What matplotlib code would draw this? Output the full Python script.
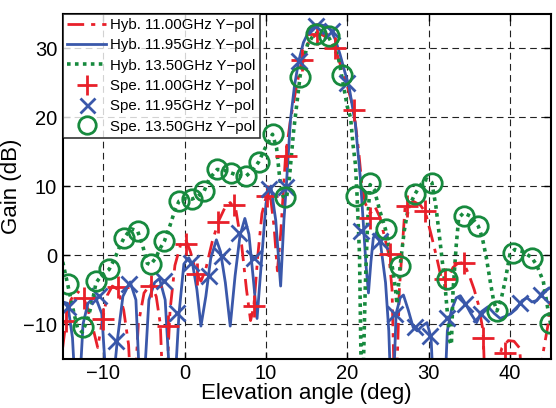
import matplotlib
matplotlib.use("Agg")
import matplotlib.pyplot as plt

plt.rcParams['font.family'] = ['Liberation Sans', 'DejaVu Sans']

# hybrid model curves (angle in deg, gain in dB)
hyb_1100_x = [-15, -14.6, -14.0, -13.3, -12.6, -12.0, -11.3, -10.7, -10.1, -9.5, -8.9, -8.2,
              -7.5, -6.9, -6.4, -5.7, -5.0, -4.2, -3.5, -3.0, -2.5, -1.8, -1.2, -0.5, 0.1,
              0.7, 1.4, 2.0, 2.6, 3.4, 4.2, 5.0, 5.6, 6.3, 7.0, 7.6, 8.1, 8.5, 9.0, 9.5,
              10.1, 10.6, 11.0, 11.4, 11.8, 12.4, 13.0, 13.6, 14.4, 15.2, 16.0, 16.8, 17.6,
              18.5, 19.3, 20.0, 20.8, 21.4, 21.8, 22.2, 22.8, 23.4, 24.0, 24.5, 25.1, 25.5,
              25.9, 26.4, 27.1, 28.1, 29.0, 29.6, 30.3, 31.0, 31.6, 32.0, 32.5, 33.0, 33.6,
              34.3, 35.0, 35.6, 36.1, 36.7, 37.1, 38.2, 39.0, 39.8, 40.5, 41.2, 41.8, 43.0,
              44.1, 44.7, 45.0]
hyb_1100_y = [-13.4, -9.6, -6.5, -5.2, -5.8, -7.5, -10.5, -13.4, -9.3, -5.8, -4.5, -5.0,
              -8.0, -13.0, -25, -10.0, -5.5, -4.2, -6.0, -10.0, -25, -8.0, -1.5, 1.5, 2.3,
              0.5, -2.5, -3.8, -2.0, 2.0, 5.0, 7.0, 7.6, 6.5, 1.5, -5.0, -9.5, -7.5, 0.0, 6.0,
              8.8, 8.0, 4.0, -2.3, 3.0, 14.3, 19.5, 23.5, 28.2, 30.7, 31.8, 32.0, 31.4,
              30.0, 27.0, 24.5, 21.0, 15.0, 10.0, 7.5, 6.0, 7.0, 5.5, 3.0, 0.1, -5.0,
              -25, -5.0, 6.9, 7.8, 7.2, 6.2, 3.0, -0.4, -3.6, -3.8, -3.0, -1.8, -1.2,
              -1.1, -3.0, -5.0, -7.1, -11.0, -25, -17.0, -13.5, -12.4, -12.5, -13.5, -25, -25,
              -14.0, -10.0, -6.7]

hyb_1195_x = [-15, -14.4, -13.8, -13.2, -12.5, -11.9, -11.0, -10.2, -9.3, -8.3, -7.6, -6.7,
              -6.0, -5.3, -4.4, -3.7, -3.1, -2.4, -1.5, -0.7, -0.1, 0.5, 1.0, 1.5, 2.0, 2.6,
              3.2, 3.9, 4.4, 5.0, 5.6, 6.2, 6.8, 7.4, 7.9, 8.4, 8.9, 9.5, 10.0, 10.6, 11.2,
              11.8, 12.2, 12.5, 13.0, 13.5, 14.0, 14.6, 15.3, 16.0, 16.6, 17.3, 17.9, 18.5,
              19.1, 19.7, 20.2, 20.7, 21.0, 21.3, 21.6, 22.0, 22.3, 22.6, 22.9, 23.2, 23.6,
              24.1, 24.7, 25.1, 25.5, 26.0, 26.5, 26.9, 27.5, 28.1, 28.6, 29.2, 29.8, 30.3,
              30.8, 31.8, 32.3, 32.8, 33.4, 33.9, 34.5, 35.2, 35.9, 36.5, 37.3, 38.1, 38.8,
              39.4, 40.1, 40.8, 41.5, 42.1, 42.7, 43.3, 44.1, 45.0]
hyb_1195_y = [-6.8, -7.0, -12.0, -25, -10.0, -7.0, -6.0, -8.5, -25, -12.5, -6.0, -3.9,
              -6.5, -25, -6.5, -4.0, -3.4, -6.5, -25, -8.5, -1.3, -0.4, -1.5, -5.0, -10.3, -6.0,
              -0.5, 2.2, 0.5, -4.0, -10.3, -3.0, 2.8, 5.3, 3.0, -3.0, -9.2, 0.0, 7.5, 10.0, 5.0,
              -4.5, 5.0, 10.0, 19.5, 24.5, 28.0, 30.8, 32.5, 33.3, 33.4, 33.2, 32.7, 31.3,
              29.1, 26.5, 24.5, 21.0, 18.9, 15.0, 11.2, 4.0, -1.5, -5.5, -1.0, 2.5, 3.3,
              1.5, -4.0, -11.0, -25, -8.5, -6.2, -5.8, -8.0, -10.5, -11.0, -10.3, -9.8, -12.0,
              -25, -25, -11.0, -8.0, -6.2, -5.9, -7.0, -8.5, -9.8, -8.2, -7.5, -8.5, -9.2,
              -8.9, -8.5, -7.8, -6.6, -6.2, -6.8, -6.6, -5.3, -4.7]

hyb_1350_x = [-15, -14.4, -13.8, -13.2, -12.6, -12.0, -11.4, -10.9, -10.1, -9.3, -8.6, -8.0,
              -7.45, -6.6, -5.8, -5.2, -4.6, -4.2, -3.6, -3.0, -2.5, -1.8, -1.2, -0.7, 0.1,
              0.9, 1.6, 2.4, 3.0, 4.0, 4.8, 5.7, 6.6, 7.5, 8.3, 9.1, 9.9, 10.8, 11.3, 11.7,
              12.1, 12.5, 12.8, 13.4, 14.2, 15.1, 15.9, 16.7, 17.5, 18.2, 18.9, 19.5, 20.0,
              20.4, 20.7, 21.0, 21.2, 21.5, 21.8, 22.2, 22.5, 22.8, 23.3, 24.0, 24.7, 25.3,
              25.9, 26.1, 26.5, 27.0, 27.5, 28.3, 29.1, 29.8, 30.4, 30.9, 31.4, 32.0, 32.6,
              32.8, 33.0, 33.4, 33.7, 34.3, 35.2, 36.1, 36.6, 37.1, 37.6, 38.0, 38.4, 38.9,
              39.4, 40.0, 40.6, 41.6, 42.7, 43.3, 44.1, 44.7, 45.0]
hyb_1350_y = [-1.0, -4.2, -7.5, -10.5, -11.2, -9.5, -7.0, -4.0, -2.8, -2.1, -0.5, 1.2,
              2.5, 3.8, 3.5, 1.5, -1.2, -1.4, -0.5, 1.0, 2.0, 4.3, 6.5, 7.8, 8.2,
              8.1, 8.5, 9.3, 11.0, 12.4, 12.3, 11.9, 11.5, 11.4, 12.2, 13.5, 15.5, 17.5, 15.5, 11.0,
              8.5, 8.2, 10.2, 18.0, 26.0, 30.5, 32.0, 32.4, 32.0, 30.5, 28.6, 24.7, 21.5,
              19.9, 16.0, 13.1, 8.6, 0.0, -25, -5.0, 5.0, 10.2, 9.5, 6.4, 3.7, 0.1,
              -4.7, -7.1, -1.5, 3.5, 6.8, 8.8, 10.3, 11.0, 10.5, 7.0, 2.0, -4.2, -12.5,
              -13.0, -5.2, 1.5, 5.4, 6.1, 5.6, 4.2, 2.5, -0.4, -4.0, -6.7, -8.1, -6.5,
              -3.8, 0.1, 0.8, 0.5, -0.4, -1.5, -3.8, -8.1, -10.0]

# measured points
spe_1100_x = [-14.6, -12.35, -10.1, -8.26, -4.2, -2.1, 0.1, 1.56, 4.1, 6.05, 8.5, 10.1,
              12.4, 14.4, 16.3, 18.5, 20.8, 22.8, 25.3, 27.3, 29.6, 32.0, 34.3, 36.7, 39.4]
spe_1100_y = [-9.6, -6.2, -9.3, -4.7, -4.5, -10.3, 1.6, -2.8, 4.8, 7.3, -7.4, 8.6,
              14.3, 28.2, 32.0, 30.0, 21.0, 5.4, 0.1, 7.1, 6.4, -3.5, -1.1, -12.0, -14.2]

spe_1195_x = [-14.4, -10.5, -8.5, -6.8, -2.5, -0.9, 0.74, 3.0, 4.6, 6.7, 8.5, 10.4, 12.4,
              14.0, 16.1, 18.1, 20.0, 21.7, 24.0, 25.9, 28.3, 30.2, 32.2, 34.5, 36.5, 41.2,
              43.8]
spe_1195_y = [-7.6, -5.9, -12.5, -4.2, -3.8, -8.4, -1.1, -3.0, -0.1, 3.2, -0.4, 9.5, 9.8,
              28.1, 33.2, 32.5, 25.0, 3.5, 2.0, -8.6, -10.5, -11.7, -9.1, -7.1, -8.5, -6.9,
              -5.8]

spe_1350_x = [-14.4, -12.55, -10.9, -9.3, -7.45, -5.8, -4.2, -2.5, -0.7, 0.94, 2.4, 4.0,
              5.7, 7.5, 9.1, 10.8, 12.3, 14.2, 16.1, 17.7, 19.35, 21.1, 22.8, 24.7, 26.5,
              28.3, 30.4, 32.2, 34.3, 36.1, 38.4, 40.4, 42.7, 44.9]
spe_1350_y = [-4.2, -10.5, -3.8, -2.1, 2.5, 3.5, -1.3, 2.0, 7.8, 8.1, 9.3, 12.4,
              11.9, 11.4, 13.5, 17.5, 8.4, 25.8, 32.0, 31.7, 26.1, 8.6, 10.5, 3.7, -1.6,
              8.8, 10.5, -3.5, 5.65, 4.2, -8.1, 0.3, -0.4, -9.8]

red = '#e8202a'
blue = '#3a58aa'
green = '#178a3e'

fig = plt.figure(figsize=(5.56, 4.08), dpi=100)
ax = fig.add_axes([0.1128, 0.1213, 0.8775, 0.8456])

ax.plot(hyb_1100_x, hyb_1100_y, color=red, lw=2.0, ls=(0, (6, 2.5, 1.5, 2.5)),
        label='Hyb. 11.00GHz Y\u2212pol')
ax.plot(hyb_1195_x, hyb_1195_y, color=blue, lw=2.0, ls='-',
        label='Hyb. 11.95GHz Y\u2212pol')
ax.plot(hyb_1350_x, hyb_1350_y, color=green, lw=2.6, ls=(0, (1, 1.2)),
        label='Hyb. 13.50GHz Y\u2212pol')
ax.plot(spe_1100_x, spe_1100_y, ls='none', marker='+', ms=16, mew=2.0, color=red,
        label='Spe. 11.00GHz Y\u2212pol')
ax.plot(spe_1195_x, spe_1195_y, ls='none', marker='x', ms=12, mew=2.0, color=blue,
        label='Spe. 11.95GHz Y\u2212pol')
ax.plot(spe_1350_x, spe_1350_y, ls='none', marker='o', ms=14, mew=2.0, mfc='none',
        color=green, label='Spe. 13.50GHz Y\u2212pol')

ax.set_xlim(-15, 45)
ax.set_ylim(-15, 35)
ax.set_xticks([-10, 0, 10, 20, 30, 40])
ax.set_yticks([-10, 0, 10, 20, 30])
ax.grid(True, color='#222222', lw=0.8, ls=(0, (6, 4)))
ax.tick_params(direction='in', top=True, right=True, length=5, width=1,
               labelsize=14.5, pad=4)
for s in ax.spines.values():
    s.set_linewidth(1.5)

ax.set_xlabel('Elevation angle (deg)', fontsize=16, labelpad=0)
ax.set_ylabel('Gain (dB)', fontsize=16, labelpad=1)

leg = ax.legend(loc='upper left', fontsize=10.8, borderaxespad=0, frameon=True,
                fancybox=False, handlelength=2.6, handletextpad=0.25,
                labelspacing=0.42, borderpad=0.3, markerscale=0.9)
leg.get_frame().set_edgecolor('black')
leg.get_frame().set_linewidth(1.2)

fig.savefig('out.png', dpi=100)
